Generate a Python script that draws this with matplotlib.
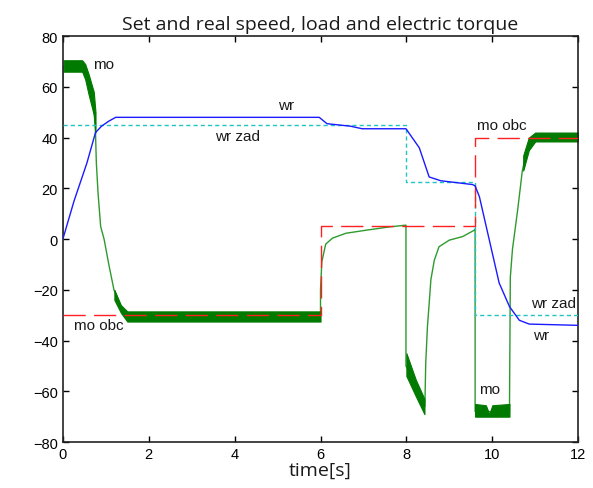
import matplotlib
matplotlib.use("Agg")
import matplotlib.pyplot as plt
import numpy as np

# ---- data ----
wr_t = [0, 0.26, 0.56, 0.76, 0.9, 1.07, 1.23, 5.97, 6.15, 6.7, 6.97, 7.99, 8.3, 8.53, 8.8, 9.54, 9.6, 9.7, 10.16, 10.4, 10.63, 10.86, 12]
wr_v = [0, 15, 30, 42, 44.5, 46.5, 48, 48, 45.5, 44.5, 43.5, 43.5, 36, 24.5, 23, 21.5, 21, 16.7, -17.3, -26.6, -32, -33.5, -34]

wrzad_t = [0, 8, 8, 9.6, 9.6, 12]
wrzad_v = [45, 45, 22.5, 22.5, -30, -30]

moobc_t = [0, 6, 6, 9.6, 9.6, 12]
moobc_v = [-30, -30, 5, 5, 40, 40]

mo_t = [0, 0.0, 0.45, 0.6, 0.72, 0.76, 0.78, 0.82, 0.88, 0.96, 1.07, 1.19, 1.38, 1.5, 6.0, 6.0,
        6.03, 6.12, 6.28, 6.59, 7.06, 7.6, 7.99, 7.99, 8.43, 8.45, 8.49, 8.53, 8.57, 8.65, 8.76,
        9.0, 9.31, 9.58, 9.6, 9.6, 10.4, 10.42, 10.47, 10.59, 10.7, 10.82, 10.94, 11.1, 12]
mo_v = [0, 68, 68, 61, 53, 42, 30, 18, 5, 0, -10, -20, -28, -30, -30, -20,
        -9, -2, 0.4, 2.3, 3.5, 4.8, 5.5, -50, -66, -49, -34.5, -25.4, -16, -8.3, -3,
        -0.4, 1, 3.5, 4, -68, -68, -15, -4, 11.4, 27, 36, 39.7, 40.2, 40.2]

# ripple envelopes of the electric torque (lower / upper bounds)
band1_t = [0.02, 0.45, 0.52, 0.6, 0.72, 0.76]
band1_lo = [66, 66, 63, 57, 49, 42]
band1_hi = [70.5, 70.5, 69, 65, 58, 50]
band2_t = [1.2, 1.35, 1.5, 6.0]
band2_lo = [-24, -29, -32.5, -32.5]
band2_hi = [-20, -26, -28.5, -28.5]
band3_t = [8.0, 8.22, 8.42]
band3_lo = [-54, -62, -69]
band3_hi = [-45, -55.5, -63]
band4_t = [9.6, 9.85, 9.93, 10.0, 10.4]
band4_lo = [-70, -70, -70, -70, -70]
band4_hi = [-65, -65.5, -69, -65.5, -65]
band5_t = [10.72, 10.85, 11.0, 12]
band5_lo = [27, 35, 38.5, 38.5]
band5_hi = [33, 40, 42, 42]

labels = [("mo", 0.7, 69), ("wr", 5.0, 53), ("wr zad", 3.55, 40.5), ("mo obc", 0.25, -34),
          ("mo obc", 9.65, 45), ("wr zad", 10.9, -25), ("wr", 10.95, -38), ("mo", 9.7, -59)]

xticks = [0, 2, 4, 6, 8, 10, 12]
yticks = [-80, -60, -40, -20, 0, 20, 40, 60, 80]

# ---- plot ----
fig = plt.figure(figsize=(5.93, 4.89), dpi=100)
ax = fig.add_axes([0.106, 0.094, 0.869, 0.830])

ax.plot(mo_t, mo_v, color="#2e9a2e", lw=1.0, zorder=2)
for bt, lo, hi in [(band1_t, band1_lo, band1_hi), (band2_t, band2_lo, band2_hi),
                   (band3_t, band3_lo, band3_hi), (band4_t, band4_lo, band4_hi),
                   (band5_t, band5_lo, band5_hi)]:
    ax.fill_between(bt, lo, hi, color="#007a00", lw=0.8, zorder=2)

ax.plot(wrzad_t, wrzad_v, color="#22c4c4", lw=1.0, dashes=(3, 2.2), zorder=3)
ax.plot(moobc_t, moobc_v, color="#ff2020", lw=1.0, dashes=(16, 6), zorder=3)
ax.plot(wr_t, wr_v, color="#1a1aff", lw=1.0, zorder=4)

for txt, x, y in labels:
    ax.text(x, y, txt, fontsize=11, family="Liberation Sans", color="#1a1a1a",
            ha="left", va="center", zorder=5)

ax.set_xlim(0, 12)
ax.set_ylim(-80, 80)
ax.set_xticks(xticks)
ax.set_yticks(yticks)
ax.tick_params(direction="in", top=True, right=True, length=4, width=1, labelsize=10.5)
for lab in ax.get_xticklabels() + ax.get_yticklabels():
    lab.set_family("Liberation Sans")
for s in ax.spines.values():
    s.set_linewidth(1.2)
    s.set_color("#222222")

ax.set_title("Set and real speed, load and electric torque", fontsize=14,
             family="Open Sans", pad=5, color="#1a1a1a")
ax.set_xlabel("time[s]", fontsize=14, family="Open Sans", labelpad=0, color="#1a1a1a")

fig.savefig("out.png", dpi=100)
